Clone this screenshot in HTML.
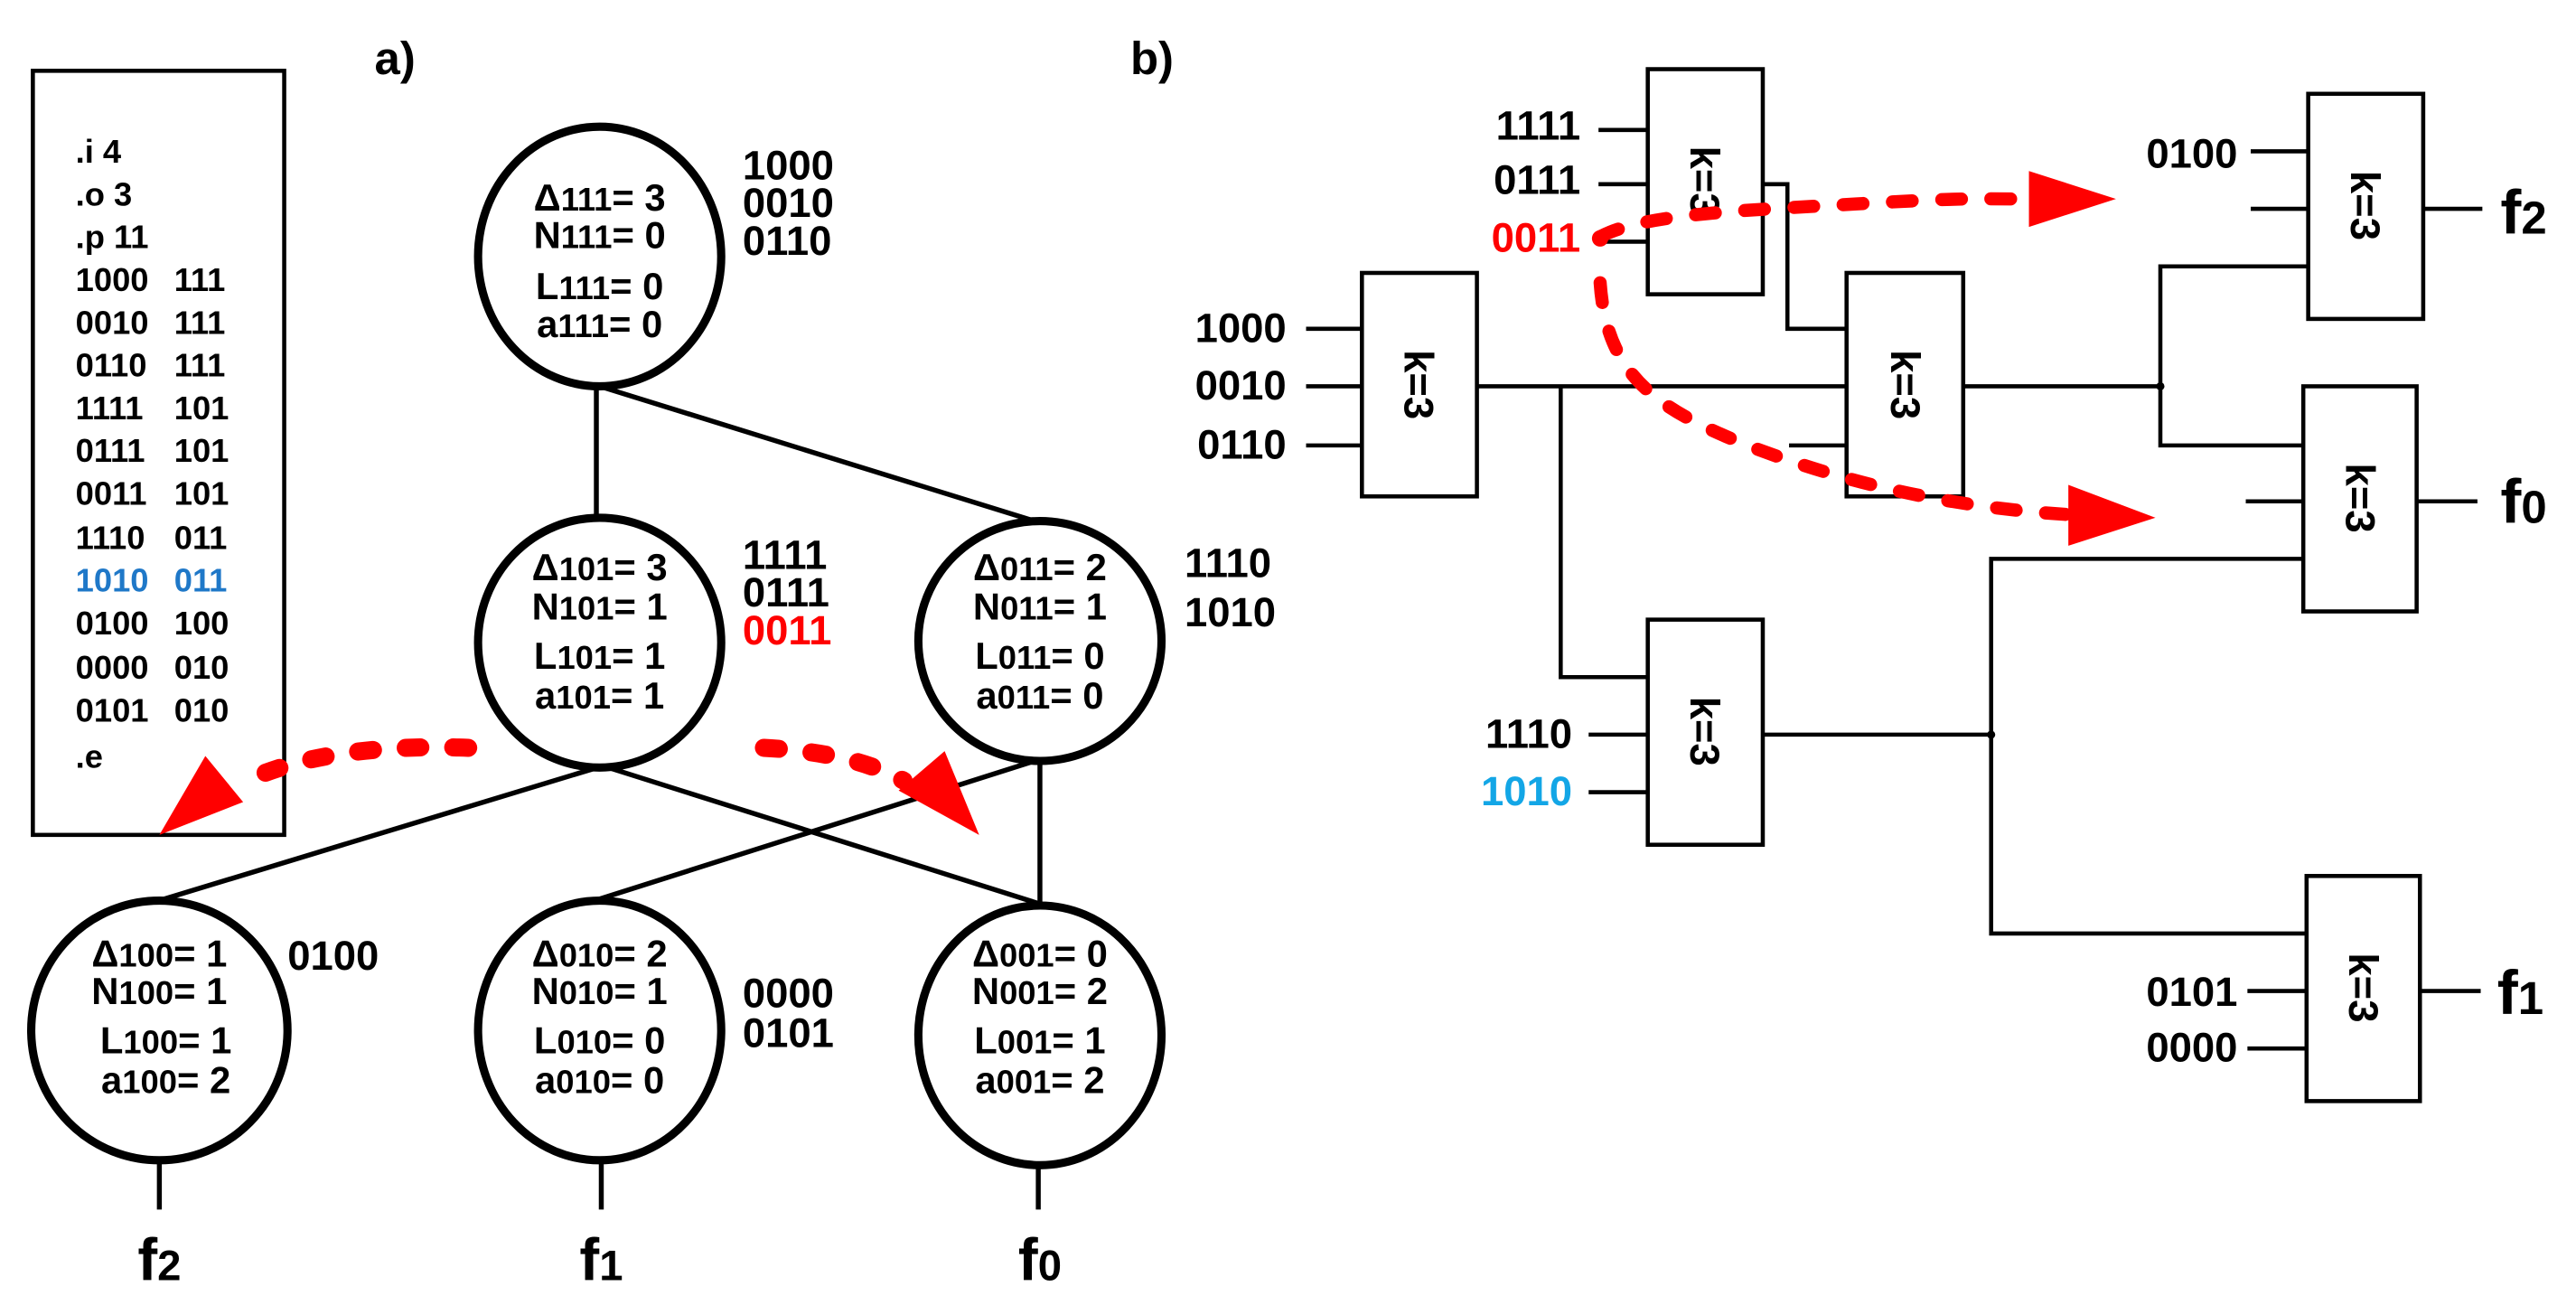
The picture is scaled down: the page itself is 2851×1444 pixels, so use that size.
<!DOCTYPE html>
<html><head><meta charset="utf-8"><style>
html,body{margin:0;padding:0;background:#fff;}
svg{display:block;}
text{font-family:"Liberation Sans",Arial,sans-serif;}
.b{font-weight:bold;font-size:25px;}
.c{font-weight:bold;font-size:23px;}
.s{font-size:20px;}
.lb{font-size:20px;font-weight:bold;}
.k{font-weight:bold;font-size:25px;}
</style></head><body>
<svg width="2851" height="1444" viewBox="0 0 1568 794" xmlns="http://www.w3.org/2000/svg">
<rect width="1568" height="794" fill="#fff"/>
<rect x="20" y="43" width="153" height="465" fill="none" stroke="#000" stroke-width="2.5"/>
<g class="lb" fill="#000">
<text x="46" y="99">.i 4</text>
<text x="46" y="125">.o 3</text>
<text x="46" y="151">.p 11</text>
<text x="46" y="177">1000</text><text x="106" y="177">111</text>
<text x="46" y="203">0010</text><text x="106" y="203">111</text>
<text x="46" y="229">0110</text><text x="106" y="229">111</text>
<text x="46" y="255">1111</text><text x="106" y="255">101</text>
<text x="46" y="281">0111</text><text x="106" y="281">101</text>
<text x="46" y="307">0011</text><text x="106" y="307">101</text>
<text x="46" y="334">1110</text><text x="106" y="334">011</text>
<text x="46" y="360" fill="#1f78c8">1010</text><text x="106" y="360" fill="#1f78c8">011</text>
<text x="46" y="386">0100</text><text x="106" y="386">100</text>
<text x="46" y="413">0000</text><text x="106" y="413">010</text>
<text x="46" y="439">0101</text><text x="106" y="439">010</text>
<text x="46" y="467">.e</text>
</g>
<text x="228" y="45" style="font-size:28px;font-weight:bold">a)</text>
<text x="688" y="45" style="font-size:28px;font-weight:bold">b)</text>

<g stroke="#000" stroke-width="3" fill="none">
<line x1="363" y1="235" x2="363" y2="316"/>
<line x1="365" y1="235" x2="633" y2="318"/>
<line x1="367" y1="466" x2="100" y2="547"/>
<line x1="367" y1="466" x2="633" y2="550"/>
<line x1="633" y1="462" x2="365" y2="547"/>
<line x1="633" y1="462" x2="633" y2="550"/>
<line x1="97" y1="706" x2="97" y2="736"/>
<line x1="366" y1="706" x2="366" y2="736"/>
<line x1="632" y1="709" x2="632" y2="736"/>
</g>
<g stroke="#000" stroke-width="5" fill="#fff">
<ellipse cx="365" cy="156" rx="74" ry="79"/>
<ellipse cx="365" cy="391" rx="74" ry="76"/>
<ellipse cx="633" cy="390" rx="74" ry="73"/>
<ellipse cx="97" cy="627" rx="78" ry="79"/>
<ellipse cx="365" cy="627" rx="74" ry="79"/>
<ellipse cx="633" cy="630" rx="74" ry="79"/>
</g>
<g class="c" fill="#000" text-anchor="middle">
<text x="365" y="128">Δ<tspan class="s">111</tspan>= 3</text>
<text x="365" y="151">N<tspan class="s">111</tspan>= 0</text>
<text x="365" y="182">L<tspan class="s">111</tspan>= 0</text>
<text x="365" y="205">a<tspan class="s">111</tspan>= 0</text>
<text x="365" y="353">Δ<tspan class="s">101</tspan>= 3</text>
<text x="365" y="377">N<tspan class="s">101</tspan>= 1</text>
<text x="365" y="407">L<tspan class="s">101</tspan>= 1</text>
<text x="365" y="431">a<tspan class="s">101</tspan>= 1</text>
<text x="633" y="353">Δ<tspan class="s">011</tspan>= 2</text>
<text x="633" y="377">N<tspan class="s">011</tspan>= 1</text>
<text x="633" y="407">L<tspan class="s">011</tspan>= 0</text>
<text x="633" y="431">a<tspan class="s">011</tspan>= 0</text>
<text x="97" y="588">Δ<tspan class="s">100</tspan>= 1</text>
<text x="97" y="611">N<tspan class="s">100</tspan>= 1</text>
<text x="101" y="641">L<tspan class="s">100</tspan>= 1</text>
<text x="101" y="665">a<tspan class="s">100</tspan>= 2</text>
<text x="365" y="588">Δ<tspan class="s">010</tspan>= 2</text>
<text x="365" y="611">N<tspan class="s">010</tspan>= 1</text>
<text x="365" y="641">L<tspan class="s">010</tspan>= 0</text>
<text x="365" y="665">a<tspan class="s">010</tspan>= 0</text>
<text x="633" y="588">Δ<tspan class="s">001</tspan>= 0</text>
<text x="633" y="611">N<tspan class="s">001</tspan>= 2</text>
<text x="633" y="641">L<tspan class="s">001</tspan>= 1</text>
<text x="633" y="665">a<tspan class="s">001</tspan>= 2</text>
</g>
<g class="b" fill="#000">
<text x="452" y="109">1000</text>
<text x="452" y="132">0010</text>
<text x="452" y="155">0110</text>
<text x="452" y="346">1111</text>
<text x="452" y="369">0111</text>
<text x="452" y="392" fill="#f00">0011</text>
<text x="721" y="351">1110</text>
<text x="721" y="381">1010</text>
<text x="175" y="590">0100</text>
<text x="452" y="613">0000</text>
<text x="452" y="637">0101</text>
</g>
<g fill="#000" style="font-weight:bold;font-size:36px" text-anchor="middle">
<text x="97" y="779">f<tspan style="font-size:26px">2</tspan></text>
<text x="366" y="779">f<tspan style="font-size:26px">1</tspan></text>
<text x="633" y="779">f<tspan style="font-size:26px">0</tspan></text>
</g>
<g stroke="#f00" stroke-width="11" stroke-linecap="round" fill="none" stroke-dasharray="9 20">
<path d="M 285 455 Q 200 452 150 475"/>
<path d="M 465 455 Q 520 458 550 475"/>
</g>
<polygon points="97,508 125,460 148,488" fill="#f00"/>
<polygon points="596,508 575,457 547,481" fill="#f00"/>

<g stroke="#000" stroke-width="2.5" fill="none">
<line x1="973" y1="79" x2="1003" y2="79"/>
<line x1="973" y1="112" x2="1003" y2="112"/>
<line x1="973" y1="147" x2="1003" y2="147"/>
<polyline points="1073,112 1088,112 1088,200 1124,200"/>
<line x1="795" y1="200" x2="829" y2="200"/>
<line x1="795" y1="235" x2="829" y2="235"/>
<line x1="795" y1="271" x2="829" y2="271"/>
<line x1="899" y1="235" x2="1124" y2="235"/>
<polyline points="950,235 950,412 1003,412"/>
<line x1="1089" y1="271" x2="1124" y2="271"/>
<line x1="967" y1="447" x2="1003" y2="447"/>
<line x1="967" y1="482" x2="1003" y2="482"/>
<line x1="1073" y1="447" x2="1212" y2="447"/>
<polyline points="1402,340 1212,340 1212,568 1404,568"/>
<line x1="1195" y1="235" x2="1315" y2="235"/>
<polyline points="1405,162 1315,162 1315,271 1402,271"/>
<line x1="1370" y1="92" x2="1405" y2="92"/>
<line x1="1370" y1="127" x2="1405" y2="127"/>
<line x1="1475" y1="127" x2="1511" y2="127"/>
<line x1="1367" y1="305" x2="1402" y2="305"/>
<line x1="1471" y1="305" x2="1508" y2="305"/>
<line x1="1368" y1="603" x2="1404" y2="603"/>
<line x1="1368" y1="638" x2="1404" y2="638"/>
<line x1="1473" y1="603" x2="1510" y2="603"/>
</g>
<circle cx="1212" cy="447" r="2.5" fill="#000"/>
<circle cx="1315" cy="235" r="2.5" fill="#000"/>
<g stroke="#000" stroke-width="2.5" fill="#fff">
<rect x="1003" y="42" width="70" height="137"/>
<rect x="829" y="166" width="70" height="136"/>
<rect x="1124" y="166" width="71" height="136"/>
<rect x="1003" y="377" width="70" height="137"/>
<rect x="1405" y="57" width="70" height="137"/>
<rect x="1402" y="235" width="69" height="137"/>
<rect x="1404" y="533" width="69" height="137"/>
</g>
<g class="k" fill="#000" text-anchor="middle">
<text transform="translate(1029,110) rotate(90)">k=3</text>
<text transform="translate(855,234) rotate(90)">k=3</text>
<text transform="translate(1151,234) rotate(90)">k=3</text>
<text transform="translate(1029,445) rotate(90)">k=3</text>
<text transform="translate(1431,125) rotate(90)">k=3</text>
<text transform="translate(1428,303) rotate(90)">k=3</text>
<text transform="translate(1430,601) rotate(90)">k=3</text>
</g>
<g class="b" fill="#000" text-anchor="end">
<text x="962" y="85">1111</text>
<text x="962" y="118">0111</text>
<text x="962" y="153" fill="#f00">0011</text>
<text x="783" y="208">1000</text>
<text x="783" y="243">0010</text>
<text x="783" y="279">0110</text>
<text x="957" y="455">1110</text>
<text x="957" y="490" fill="#13a6e6">1010</text>
<text x="1362" y="102">0100</text>
<text x="1362" y="612">0101</text>
<text x="1362" y="646">0000</text>
</g>
<g fill="#000" style="font-weight:bold;font-size:38px">
<text x="1522" y="142">f<tspan style="font-size:28px">2</tspan></text>
<text x="1522" y="318">f<tspan style="font-size:28px">0</tspan></text>
<text x="1520" y="617">f<tspan style="font-size:28px">1</tspan></text>
</g>
<g stroke="#f00" stroke-width="8" stroke-linecap="round" fill="none" stroke-dasharray="12 18">
<path d="M 974 144 C 1000 130 1060 128 1130 124 S 1200 121 1236 121"/>
<path d="M 974 172 C 978 230 1010 250 1069 273 C 1120 292 1180 308 1258 313"/>
</g>
<circle cx="974" cy="145" r="5" fill="#f00"/>
<polygon points="1288,121 1235,104 1235,138" fill="#f00"/>
<polygon points="1312,315 1259,295 1259,332" fill="#f00"/>
</svg>
</body></html>
